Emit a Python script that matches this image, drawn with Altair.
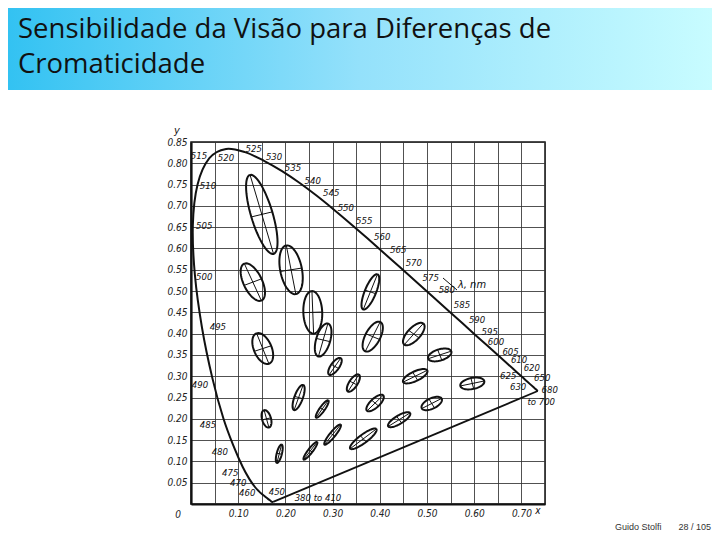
import numpy as np
import pandas as pd
import altair as alt

# ---------------- data ----------------
# spectral locus (CIE 1931 x,y), wavelength in nm
wl = [380,420,430,440,450,455,460,465,470,475,480,485,490,495,500,505,510,515,520,525,
      530,535,540,545,550,555,560,565,570,575,580,585,590,595,600,605,610,615,620,625,
      630,640,650,660,680,700]
lx = [0.1741,0.1714,0.1690,0.1644,0.1566,0.1510,0.1440,0.1355,0.1241,0.1096,
      0.0913,0.0687,0.0454,0.0235,0.0082,0.0039,0.0139,0.0389,0.0743,0.1142,
      0.1547,0.1929,0.2296,0.2658,0.3016,0.3373,0.3731,0.4087,0.4441,0.4788,
      0.5125,0.5448,0.5752,0.6029,0.6270,0.6482,0.6658,0.6801,0.6915,0.7006,
      0.7079,0.7190,0.7260,0.7300,0.7334,0.7347]
ly = [0.0050,0.0051,0.0069,0.0109,0.0177,0.0227,0.0297,0.0399,0.0578,0.0868,
      0.1327,0.2007,0.2950,0.4127,0.5384,0.6548,0.7502,0.8120,0.8338,0.8262,
      0.8059,0.7816,0.7543,0.7243,0.6923,0.6589,0.6245,0.5896,0.5547,0.5202,
      0.4866,0.4544,0.4242,0.3965,0.3725,0.3514,0.3340,0.3197,0.3083,0.2993,
      0.2920,0.2809,0.2740,0.2700,0.2666,0.2653]

# wavelength labels (text, position in chromaticity coordinates)
lab_txt = ["515","520","525","530","535","540","545","550","555","560","565","570",
           "575","580","585","590","595","600","605","610","620","625","630","650",
           "680","to 700","510","505","500","495","490","485","480","475","470","460",
           "450","380 to 410"]
lab_x = [0.017,0.074,0.133,0.176,0.216,0.258,0.297,0.328,0.367,0.405,0.439,0.472,
         0.508,0.542,0.574,0.606,0.633,0.646,0.677,0.695,0.722,0.672,0.693,0.744,
         0.760,0.742,0.036,0.028,0.028,0.057,0.019,0.036,0.061,0.083,0.100,0.119,
         0.182,0.269]
lab_y = [0.817,0.812,0.833,0.815,0.789,0.758,0.730,0.695,0.664,0.627,0.596,0.566,
         0.531,0.502,0.467,0.432,0.404,0.381,0.358,0.337,0.319,0.300,0.275,0.296,
         0.268,0.239,0.746,0.653,0.533,0.416,0.279,0.185,0.122,0.073,0.049,0.026,
         0.028,0.014]

# MacAdam ellipses: centre, semi-axes (x1e-3, drawn 10x), angle (deg)
ex = [0.187,0.253,0.150,0.131,0.212,0.258,0.152,0.280,0.380,0.160,0.228,0.305,
      0.385,0.472,0.527,0.475,0.510,0.596,0.344,0.390,0.441,0.278,0.300,0.365]
ey = [0.118,0.125,0.680,0.521,0.550,0.450,0.365,0.385,0.498,0.200,0.250,0.323,
      0.393,0.399,0.350,0.300,0.236,0.283,0.284,0.237,0.198,0.223,0.163,0.153]
ea = [2.2,2.5,9.6,4.7,5.8,5.0,3.8,4.0,4.4,2.1,3.1,2.3,3.8,3.2,2.6,2.9,2.4,2.6,
      2.3,2.5,2.8,2.4,2.9,3.6]
eb = [0.55,0.50,2.3,2.0,2.3,2.0,1.9,1.5,1.2,0.95,0.90,0.90,1.6,1.4,1.3,1.1,1.2,
      1.3,0.90,1.0,0.95,0.55,0.60,0.95]
eth = [77,55.5,105,112.5,100,92,110,75.5,70,104,72,58,65.5,51,20,28.5,29.5,13,
       60,47,34.5,57.5,54,40]

grid_vals_x = [round(0.05 * i, 2) for i in range(1, 16)]
grid_vals_y = [round(0.05 * i, 2) for i in range(1, 18)]

title_lines = ["Sensibilidade da Visão para Diferenças de", "Cromaticidade"]
footer_author = "Guido Stolfi"
footer_page = "28 / 105"

# ---------------- tables ----------------
locus = pd.DataFrame({"wl": wl, "x": lx, "y": ly})
purple = pd.DataFrame({"x": [lx[0]], "y": [ly[0]], "x2": [lx[-1]], "y2": [ly[-1]]})
labels = pd.DataFrame({"t": lab_txt, "x": lab_x, "y": lab_y})

SCALE = 0.01  # semi-axes in 1e-3, magnified 10x
rows, axes_rows = [], []
tt = np.linspace(0, 2 * np.pi, 61)
for i in range(len(ex)):
    A, B, th = ea[i] * SCALE, eb[i] * SCALE, np.radians(eth[i])
    c, s = np.cos(th), np.sin(th)
    for k, t in enumerate(tt):
        rows.append({"id": i, "k": k,
                     "x": ex[i] + A * np.cos(t) * c - B * np.sin(t) * s,
                     "y": ey[i] + A * np.cos(t) * s + B * np.sin(t) * c})
    axes_rows.append({"x": ex[i] - A * c, "y": ey[i] - A * s, "x2": ex[i] + A * c, "y2": ey[i] + A * s})
    axes_rows.append({"x": ex[i] + B * s, "y": ey[i] - B * c, "x2": ex[i] - B * s, "y2": ey[i] + B * c})
ell = pd.DataFrame(rows)
ell_axes = pd.DataFrame(axes_rows)

# ---------------- encodings ----------------
INK = "#111111"
LABFONT = "DejaVu Sans Condensed, DejaVu Sans"
xscale = alt.Scale(domain=[0, 0.75], nice=False, zero=False)
yscale = alt.Scale(domain=[0, 0.85], nice=False, zero=False)
xaxis = alt.Axis(values=grid_vals_x, grid=True, gridColor="#333333", gridWidth=1,
                 gridOpacity=0.85, tickSize=0, domainColor=INK, domainWidth=2.2,
                 labelExpr="(round(datum.value*100) % 10 == 0) ? format(datum.value, '.2f') : ''",
                 labelFont=LABFONT, labelFontStyle="italic", labelFontSize=10,
                 labelColor="#222222", labelPadding=4, title=None)
yaxis = alt.Axis(values=grid_vals_y, grid=True, gridColor="#333333", gridWidth=1,
                 gridOpacity=0.85, tickSize=0, domainColor=INK, domainWidth=2.2,
                 format=".2f", labelFont=LABFONT, labelFontStyle="italic",
                 labelFontSize=10, labelColor="#222222", labelPadding=4, title=None)
X = alt.X("x:Q", scale=xscale, axis=xaxis)
Y = alt.Y("y:Q", scale=yscale, axis=yaxis)

one = pd.DataFrame({"a": [0]})

# title bar (pixel coords relative to plot area)
bar = alt.Chart(one).mark_rect(
    fill={"gradient": "linear", "x1": 0, "x2": 1, "y1": 0, "y2": 0,
          "stops": [{"offset": 0, "color": "#33c2f2"},
                    {"offset": 0.5, "color": "#94e1fb"},
                    {"offset": 1, "color": "#c8fcff"}]}
).encode(x=alt.value(-183), x2=alt.value(521), y=alt.value(-134), y2=alt.value(-52))

t1 = alt.Chart(one).mark_text(text=title_lines[0], font="Open Sans", fontSize=27.5, align="left",
                              baseline="alphabetic", color="#111111").encode(
    x=alt.value(-173), y=alt.value(-104))
t2 = alt.Chart(one).mark_text(text=title_lines[1], font="Open Sans", fontSize=27.5, align="left",
                              baseline="alphabetic", color="#111111").encode(
    x=alt.value(-173), y=alt.value(-69))

loc_line = alt.Chart(locus).mark_line(color=INK, strokeWidth=2, interpolate="cardinal").encode(
    x=X, y=Y, order="wl:Q")
purple_line = alt.Chart(purple).mark_rule(color=INK, strokeWidth=1.8).encode(
    x=X, y=Y, x2="x2:Q", y2="y2:Q")

ell_lines = alt.Chart(ell).mark_line(color=INK, strokeWidth=2).encode(
    x=X, y=Y, detail="id:N", order="k:Q")
ell_ax = alt.Chart(ell_axes).mark_rule(color=INK, strokeWidth=1).encode(
    x=X, y=Y, x2="x2:Q", y2="y2:Q")

lab = alt.Chart(labels).mark_text(font=LABFONT, fontStyle="italic", fontSize=9.5,
                                  color="#111111", align="center", baseline="middle").encode(
    x=X, y=Y, text="t:N")

lam = alt.Chart(one).mark_text(text="λ, nm", font=LABFONT, fontStyle="italic", fontSize=11,
                               color="#111111", align="center", baseline="middle").encode(
    x=alt.value(281), y=alt.value(143))
lam_ptr = alt.Chart(one).mark_rule(color=INK, strokeWidth=1).encode(
    x=alt.value(252), y=alt.value(136), x2=alt.value(266), y2=alt.value(148))

ylab = alt.Chart(one).mark_text(text="y", font=LABFONT, fontStyle="italic", fontSize=11,
                                color="#111111").encode(x=alt.value(-14), y=alt.value(-11))
xlab = alt.Chart(one).mark_text(text="x", font=LABFONT, fontStyle="italic", fontSize=10,
                                color="#111111").encode(x=alt.value(347), y=alt.value(369))
zlab = alt.Chart(one).mark_text(text="0", font=LABFONT, fontStyle="italic", fontSize=10,
                                color="#222222").encode(x=alt.value(-13), y=alt.value(373))

foot1 = alt.Chart(one).mark_text(text=footer_author, font="Liberation Sans", fontSize=9,
                                 color="#333333", align="left").encode(
    x=alt.value(424), y=alt.value(385))
foot2 = alt.Chart(one).mark_text(text=footer_page, font="Liberation Sans", fontSize=9,
                                 color="#333333", align="right").encode(
    x=alt.value(520), y=alt.value(385))

chart = alt.layer(
    bar, t1, t2, loc_line, purple_line, ell_lines, ell_ax, lab, lam, lam_ptr,
    ylab, xlab, zlab, foot1, foot2
).properties(
    width=354, height=362,
    autosize=alt.AutoSizeParams(type="none"),
    padding={"left": 183, "top": 134, "right": 167, "bottom": 28},
    background="white",
).configure_view(stroke=INK, strokeWidth=1.5)

chart.save("out.html", embed_options={"renderer": "svg", "actions": False})
